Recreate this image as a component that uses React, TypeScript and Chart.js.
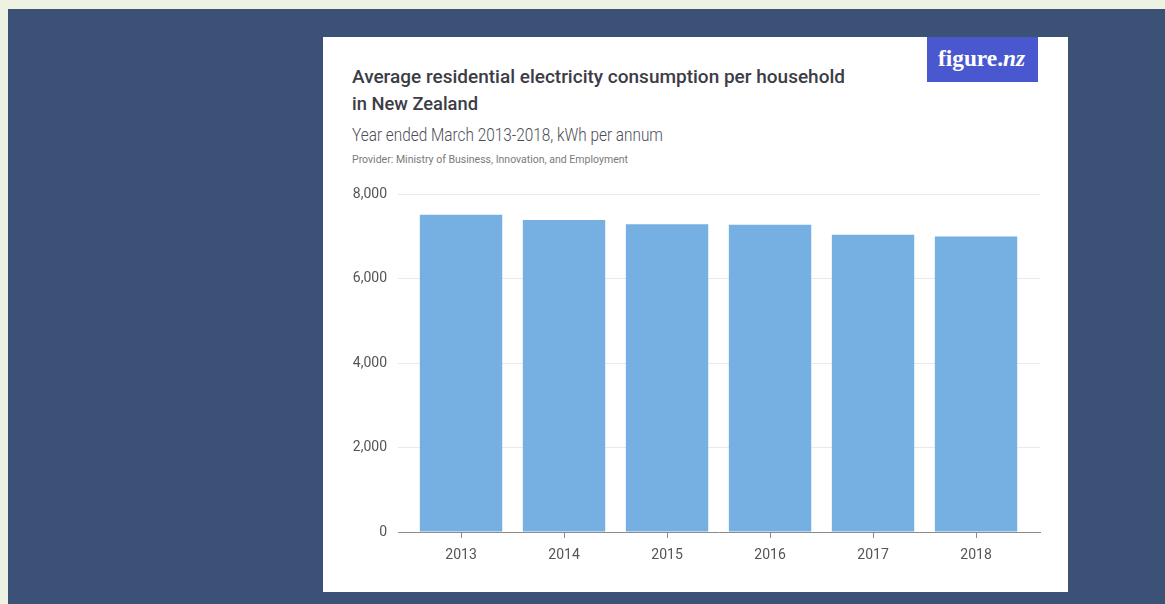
import React, { useEffect, useLayoutEffect, useRef } from "react";
import { Chart, registerables } from "chart.js";

Chart.register(...registerables);

// ---- data ----
const YEARS = [2013, 2014, 2015, 2016, 2017, 2018];
const CONSUMPTION_KWH = [7515, 7395, 7295, 7280, 7045, 7005];
const Y_TICKS = [0, 2000, 4000, 6000, 8000];

const TITLE_LINE_1 = "Average residential electricity consumption per household";
const TITLE_LINE_2 = "in New Zealand";
const SUBTITLE = "Year ended March 2013-2018, kWh per annum";
const PROVIDER = "Provider: Ministry of Business, Innovation, and Employment";

if (typeof document !== "undefined") {
  document.documentElement.style.overflow = "hidden";
  document.body.style.margin = "0";
  document.body.style.overflow = "hidden";
  document.body.style.background = "#eef2e3";
}

const AXIS_FONT = "'Roboto', sans-serif";

function FitText(props: { text: React.ReactNode; width: number; style: React.CSSProperties }) {
  const ref = useRef<HTMLSpanElement>(null);
  useLayoutEffect(() => {
    const fit = () => {
      const el = ref.current;
      if (!el) return;
      el.style.transform = "none";
      const w = el.getBoundingClientRect().width;
      if (w > 0) el.style.transform = `scaleX(${props.width / w})`;
    };
    fit();
    if ((document as any).fonts && (document as any).fonts.ready) {
      (document as any).fonts.ready.then(fit);
    }
  });
  return (
    <span
      ref={ref}
      style={{
        position: "absolute",
        display: "inline-block",
        whiteSpace: "nowrap",
        transformOrigin: "0 0",
        ...props.style,
      }}
    >
      {props.text}
    </span>
  );
}

function BarChart() {
  const canvasRef = useRef<HTMLCanvasElement>(null);
  useEffect(() => {
    const canvas = canvasRef.current;
    if (!canvas) return;
    const points = YEARS.map((y, i) => ({ x: y, y: CONSUMPTION_KWH[i] }));
    const chart = new Chart(canvas, {
      type: "bar",
      data: {
        datasets: [
          {
            data: points as any,
            backgroundColor: "#76b0e3",
            borderWidth: 0,
            barPercentage: 0.8,
            categoryPercentage: 1.0,
          },
        ],
      },
      options: {
        animation: false,
        responsive: false,
        devicePixelRatio: 1,
        layout: { padding: { top: 16, right: 10, left: 0, bottom: 0 } },
        plugins: {
          legend: { display: false },
          tooltip: { enabled: false },
          title: { display: false },
        },
        scales: {
          x: {
            type: "linear",
            offset: false,
            min: 2012.388,
            max: 2018.621,
            afterBuildTicks: (scale: any) => {
              scale.ticks = YEARS.map((v) => ({ value: v }));
            },
            afterFit: (scale: any) => {
              scale.height = 43;
            },
            ticks: {
              autoSkip: false,
              maxRotation: 0,
              padding: 9,
              color: "#555555",
              font: { family: AXIS_FONT, size: 14 },
              callback: (v: any) => String(v),
            },
            grid: {
              display: true,
              offset: false,
              drawOnChartArea: false,
              drawTicks: true,
              tickLength: 6,
              color: "#8a8a8a",
              lineWidth: 1,
            },
            border: { display: true, color: "#8a8a8a", width: 1 },
          },
          y: {
            type: "linear",
            min: 0,
            max: 8000,
            afterBuildTicks: (scale: any) => {
              scale.ticks = Y_TICKS.map((v) => ({ value: v }));
            },
            afterFit: (scale: any) => {
              scale.width = 68;
            },
            ticks: {
              padding: 11,
              color: "#555555",
              font: { family: AXIS_FONT, size: 14 },
              callback: (v: any) => Number(v).toLocaleString("en-US"),
            },
            grid: {
              color: "#e9e9e9",
              lineWidth: 1,
              drawTicks: false,
            },
            border: { display: false },
          },
        },
      },
    });
    return () => chart.destroy();
  }, []);
  return (
    <canvas
      ref={canvasRef}
      width={720}
      height={400}
      style={{ position: "absolute", left: 330, top: 175, width: 720, height: 400, display: "block" }}
    />
  );
}

export default function App() {
  return (
    <div style={{ position: "relative", width: 1165, height: 604, overflow: "hidden" }}>
      {/* navy background */}
      <div
        style={{
          position: "absolute",
          left: 8,
          top: 9,
          width: 1157,
          height: 595,
          background: "#3b5276",
        }}
      />
      {/* white card */}
      <div
        style={{
          position: "absolute",
          left: 323,
          top: 37,
          width: 745,
          height: 555,
          background: "#ffffff",
        }}
      />
      {/* logo */}
      <div
        style={{
          position: "absolute",
          left: 927,
          top: 37,
          width: 111,
          height: 45,
          background: "#4a58cf",
        }}
      />
      <FitText
        text={
          <>
            figure.<span style={{ fontStyle: "italic" }}>nz</span>
          </>
        }
        width={87}
        style={{
          left: 938,
          top: 47,
          fontFamily: "'Liberation Serif', 'DejaVu Serif', serif",
          fontWeight: 700,
          fontSize: 23,
          lineHeight: "23px",
          color: "#ffffff",
        }}
      />
      <FitText
        text={TITLE_LINE_1}
        width={493}
        style={{
          left: 352,
          top: 67,
          fontFamily: "Roboto, sans-serif",
          fontWeight: 500,
          fontSize: 19,
          lineHeight: "19px",
          color: "#3c3c45",
        }}
      />
      <FitText
        text={TITLE_LINE_2}
        width={126}
        style={{
          left: 352,
          top: 94,
          fontFamily: "Roboto, sans-serif",
          fontWeight: 500,
          fontSize: 19,
          lineHeight: "19px",
          color: "#3c3c45",
        }}
      />
      <FitText
        text={SUBTITLE}
        width={311}
        style={{
          left: 352,
          top: 126,
          fontFamily: "Roboto, sans-serif",
          fontWeight: 300,
          fontSize: 18,
          lineHeight: "18px",
          color: "#4d4d55",
        }}
      />
      <FitText
        text={PROVIDER}
        width={276}
        style={{
          left: 352,
          top: 154,
          fontFamily: "Roboto, sans-serif",
          fontWeight: 400,
          fontSize: 11.5,
          lineHeight: "11.5px",
          color: "#7a7a7a",
        }}
      />
      <BarChart />
    </div>
  );
}
